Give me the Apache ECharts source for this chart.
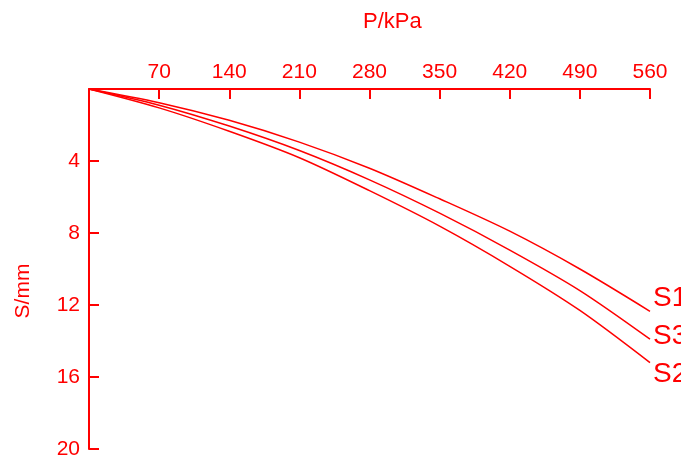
<!DOCTYPE html>
<html>
<head>
<meta charset="utf-8">
<script src="https://cdn.jsdelivr.net/npm/echarts@6/dist/echarts.min.js"></script>
<style>html,body{margin:0;padding:0;background:#fff;}#c{width:681px;height:462px;}</style>
</head>
<body>
<div id="c"></div>
<script>
var pressure = [0, 70, 140, 210, 280, 350, 420, 490, 560];
var s1 = [0, 0.76, 1.74, 2.95, 4.4, 6.1, 7.9, 10.0, 12.35];
var s3 = [0, 0.9, 2.06, 3.42, 5.05, 6.9, 8.95, 11.2, 13.9];
var s2 = [0, 1.05, 2.35, 3.82, 5.65, 7.62, 9.85, 12.3, 15.2];
var xTicks = [70, 140, 210, 280, 350, 420, 490, 560];
var yTicks = [4, 8, 12, 16, 20];

var RED = '#ff0000';
var FONT = '"Liberation Sans", Arial, sans-serif';

function pairs(vals) { return pressure.map(function (p, i) { return [p, vals[i]]; }); }
function mkSeries(name, vals, off) {
  return {
    name: name, type: 'line', data: pairs(vals), showSymbol: false, smooth: 0.3,
    lineStyle: { color: RED, width: 1.5 }, itemStyle: { color: RED },
    endLabel: { show: true, formatter: '{a}', color: RED, fontSize: 28, fontFamily: FONT, distance: 3, offset: off },
    animation: false
  };
}

var chart = echarts.init(document.getElementById('c'), null, { renderer: 'canvas' });
chart.setOption({
  backgroundColor: '#fff',
  animation: false,
  grid: { left: 89, top: 89, right: 31, bottom: 13, containLabel: false },
  xAxis: {
    type: 'value', position: 'top', min: 0, max: 560, interval: 70,
    axisLine: { show: true, lineStyle: { color: RED, width: 2 } },
    axisTick: { show: true, inside: true, length: 10, lineStyle: { color: RED, width: 2 } },
    axisLabel: { color: RED, fontSize: 21, fontFamily: FONT, margin: 6,
      formatter: function (v) { return xTicks.indexOf(v) >= 0 ? String(v) : ''; } },
    splitLine: { show: false }
  },
  yAxis: {
    type: 'value', inverse: true, min: 0, max: 20, interval: 4,
    axisLine: { show: true, lineStyle: { color: RED, width: 2 } },
    axisTick: { show: true, inside: true, length: 10, lineStyle: { color: RED, width: 2 } },
    axisLabel: { color: RED, fontSize: 21, fontFamily: FONT, margin: 9,
      formatter: function (v) { return yTicks.indexOf(v) >= 0 ? String(v) : ''; } },
    splitLine: { show: false }
  },
  graphic: [
    { type: 'text', left: 363, top: 11, style: { text: 'P/kPa', fill: RED, font: '22px ' + FONT } },
    { type: 'text', x: 34, y: 291, rotation: Math.PI / 2, style: { text: 'S/mm', fill: RED, font: '21px ' + FONT, textAlign: 'center', textVerticalAlign: 'bottom' } }
  ],
  series: [
    mkSeries('S1', s1, [0, -13]),
    mkSeries('S3', s3, [0, -3]),
    mkSeries('S2', s2, [0, 12])
  ]
});
</script>
</body>
</html>
